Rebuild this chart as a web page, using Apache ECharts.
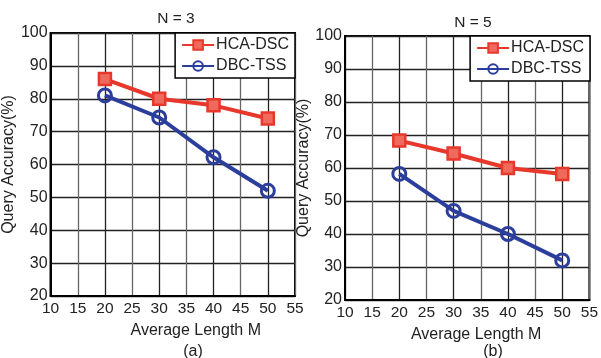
<!DOCTYPE html>
<html>
<head>
<meta charset="utf-8">
<style>
  html, body { margin: 0; padding: 0; background: #fff; }
  #chart { width: 601px; height: 358px; }
</style>
<script src="https://cdn.jsdelivr.net/npm/echarts@6/dist/echarts.min.js"></script>
</head>
<body>
<div id="chart"></div>
<script>
// x positions (average length M)
const lengths = [20, 30, 40, 50];

// panel (a): N = 3
const hcaN3 = [86, 80, 78, 74];
const dbcN3 = [81, 74.3, 62.2, 52];

// panel (b): N = 5
const hcaN5 = [68.3, 64.4, 60, 58.2];
const dbcN5 = [58.2, 47, 40, 32];

const panelTitles = ["N = 3", "N = 5"];
const panelTags = ["(a)", "(b)"];
const seriesNames = ["HCA-DSC", "DBC-TSS"];

const RED = "#e8382b";
const BLUE = "#2c3e9c";
const FONT = "Liberation Sans";
const TEXT = "#222";

const chart = echarts.init(document.getElementById("chart"), null, { renderer: "canvas" });

const grids = [
  { left: 48, top: 33, width: 247, height: 263 },
  { left: 345, top: 36, width: 248, height: 264 },
];

function pairs(ys) {
  return lengths.map((x, i) => [x, ys[i]]);
}

function xAxis(i, namePad) {
  return {
    type: "value",
    gridIndex: i,
    min: 10,
    max: 55,
    interval: 5,
    name: "Average Length M",
    nameLocation: "middle",
    nameGap: 27,
    nameTextStyle: { fontFamily: FONT, fontSize: 16, color: TEXT, padding: namePad },
    axisLine: { lineStyle: { color: "#000", width: 2 } },
    axisTick: { show: false },
    axisLabel: { fontFamily: FONT, fontSize: 15.5, color: TEXT, margin: 5, showMaxLabel: true },
    splitLine: { show: true, lineStyle: { color: ["#222", "#666"], width: 1.3 } },
  };
}

function yAxis(i) {
  return {
    type: "value",
    gridIndex: i,
    min: 20,
    max: 100,
    interval: 10,
    name: "Query Accuracy(%)",
    nameLocation: "middle",
    nameGap: 32,
    nameTextStyle: { fontFamily: FONT, fontSize: 16, color: TEXT },
    axisLine: { lineStyle: { color: "#000", width: 2 } },
    axisTick: { show: false },
    axisLabel: { fontFamily: FONT, fontSize: 16, color: TEXT, margin: 3 },
    splitLine: { show: true, lineStyle: { color: "#222", width: 1.3 } },
  };
}

function hcaSeries(i, data) {
  return {
    name: seriesNames[0],
    type: "line",
    xAxisIndex: i,
    yAxisIndex: i,
    data: pairs(data),
    symbol: "rect",
    symbolSize: 12,
    lineStyle: { color: RED, width: 4 },
    itemStyle: { color: "#ef6a5c", borderColor: RED, borderWidth: 2.5 },
    animation: false,
    z: 3,
  };
}

function dbcSeries(i, data) {
  return {
    name: seriesNames[1],
    type: "line",
    xAxisIndex: i,
    yAxisIndex: i,
    data: pairs(data),
    symbol: "circle",
    symbolSize: 13,
    lineStyle: { color: BLUE, width: 4 },
    itemStyle: { color: "rgba(255,255,255,0)", borderColor: BLUE, borderWidth: 3 },
    animation: false,
    z: 3,
  };
}

function legend(right, top) {
  return {
    data: seriesNames,
    orient: "vertical",
    right: right,
    top: top,
    itemWidth: 32,
    itemHeight: 12,
    itemGap: 5,
    padding: [4, 6, 4, 6],
    backgroundColor: "#fff",
    borderColor: "#000",
    borderWidth: 1.5,
    textStyle: { fontFamily: FONT, fontSize: 16, color: TEXT, padding: [0, 0, 0, -3] },
    z: 5,
  };
}

const titleStyle = (size) => ({ fontFamily: FONT, fontSize: size, fontWeight: "normal", color: TEXT });

const option = {
  backgroundColor: "#fff",
  title: [
    { text: panelTitles[0], left: 171, top: 6, textAlign: "center", textStyle: titleStyle(15.5) },
    { text: panelTitles[1], left: 468, top: 10, textAlign: "center", textStyle: titleStyle(15.5) },
    { text: panelTags[0], left: 188, top: 339, textAlign: "center", textStyle: titleStyle(16) },
    { text: panelTags[1], left: 488, top: 339, textAlign: "center", textStyle: titleStyle(16) },
  ],
  grid: grids.map((g) => ({ ...g, show: true, borderColor: "#000", borderWidth: 2, backgroundColor: "#fff" })),
  xAxis: [xAxis(0, [0, 0, 0, 46]), xAxis(1, [0, 0, 0, 18])],
  yAxis: [yAxis(0), yAxis(1)],
  legend: [legend(306, 33), legend(11, 36)],
  series: [
    hcaSeries(0, hcaN3),
    dbcSeries(0, dbcN3),
    hcaSeries(1, hcaN5),
    dbcSeries(1, dbcN5),
  ],
};

chart.setOption(option);
</script>
</body>
</html>
